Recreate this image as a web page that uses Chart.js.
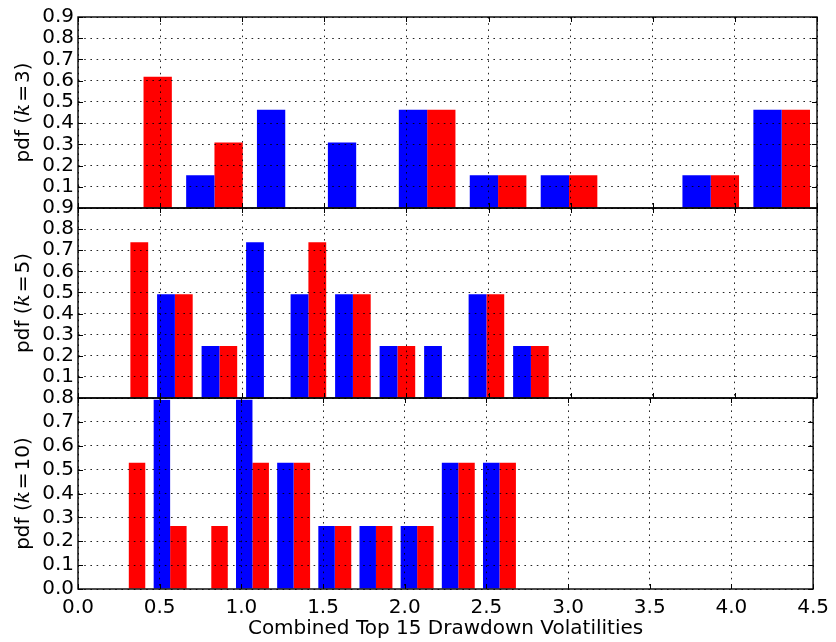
<!DOCTYPE html>
<html lang="en">
  <head>
    <meta charset="UTF-8" />
    <title>Drawdown volatility pdf</title>
    <style>
      body { margin: 0; background: #fff; }
      .fig { position: relative; width: 836px; height: 642px; background: #fff; }
      .panel { position: absolute; left: 0; width: 836px; }
    </style>
  </head>
  <body>
    <div class="fig">
      <div class="panel" style="top: 0px; height: 224px"><canvas id="chart-k3"></canvas></div>
      <div class="panel" style="top: 190px; height: 224px"><canvas id="chart-k5"></canvas></div>
      <div class="panel" style="top: 380px; height: 262px"><canvas id="chart-k10"></canvas></div>
    </div>
    <script src="https://cdn.jsdelivr.net/npm/chart.js"></script>
    <script>
      // histogram bin centres and pdf heights, one set per k
      const binsK3 = [0.399, 0.831, 1.262, 1.694, 2.126, 2.558, 2.990, 3.421, 3.853, 4.285];
      const blueK3 = [0, 0.154, 0.463, 0.309, 0.463, 0.154, 0.154, 0, 0.154, 0.463];
      const redK3 = [0.618, 0.309, 0, 0, 0.463, 0.154, 0.154, 0, 0.154, 0.463];

      const binsK5 = [0.319, 0.590, 0.861, 1.132, 1.403, 1.674, 1.945, 2.216, 2.487, 2.758];
      const blueK5 = [0, 0.492, 0.246, 0.738, 0.492, 0.492, 0.246, 0.246, 0.492, 0.246];
      const redK5 = [0.738, 0.492, 0.246, 0, 0.738, 0.492, 0.246, 0, 0.492, 0.246];

      const binsK10 = [0.311, 0.564, 0.816, 1.068, 1.320, 1.572, 1.824, 2.076, 2.328, 2.580];
      const blueK10 = [0, 0.793, 0, 0.793, 0.529, 0.264, 0.264, 0.264, 0.529, 0.529];
      const redK10 = [0.529, 0.264, 0.264, 0.529, 0.529, 0.264, 0.264, 0.264, 0.529, 0.529];

      const kValues = [3, 5, 10];
      const yMaxes = [0.9, 0.9, 0.8];
      const xMin = 0, xMax = 4.5, xStep = 0.5, yStep = 0.1;
      const xTitle = "Combined Top 15 Drawdown Volatilities";

      const FONT = "'DejaVu Sans', sans-serif";
      const SIZE = 20;

      // box around the axes, inward ticks on every side, and the y label with italic k
      const framePlugin = {
        id: "frame",
        afterDraw(chart) {
          const { ctx, chartArea: a, scales } = chart;
          const x = scales.x, y = scales.y;
          ctx.save();
          ctx.strokeStyle = "#000";
          ctx.lineWidth = 1;
          ctx.beginPath();
          x.ticks.forEach((t) => {
            const px = Math.round(x.getPixelForValue(t.value)) + 0.5;
            ctx.moveTo(px, a.top); ctx.lineTo(px, a.top + 5);
            ctx.moveTo(px, a.bottom); ctx.lineTo(px, a.bottom - 5);
          });
          y.ticks.forEach((t) => {
            const py = Math.round(y.getPixelForValue(t.value)) + 0.5;
            ctx.moveTo(a.left, py); ctx.lineTo(a.left + 5, py);
            ctx.moveTo(a.right, py); ctx.lineTo(a.right - 5, py);
          });
          ctx.stroke();
          ctx.lineWidth = 1.4;
          ctx.strokeRect(a.left, a.top, a.right - a.left, a.bottom - a.top);

          const k = chart.options.plugins.frame.k;
          const plain = SIZE + "px " + FONT;
          const parts = [
            ["pdf (", plain, 0],
            ["k", "italic " + SIZE + "px 'DejaVu Serif', serif", 0],
            ["=", plain, 2],
            [String(k), plain, 0],
            [")", plain, 0],
          ];
          let total = 0;
          parts.forEach((p) => { ctx.font = p[1]; total += ctx.measureText(p[0]).width + 2 * p[2]; });
          ctx.translate(23.5, (a.top + a.bottom) / 2);
          ctx.rotate(-Math.PI / 2);
          ctx.fillStyle = "#000";
          ctx.textBaseline = "middle";
          ctx.textAlign = "left";
          let pos = -total / 2;
          parts.forEach((p) => {
            ctx.font = p[1];
            pos += p[2];
            ctx.fillText(p[0], pos, 0);
            pos += ctx.measureText(p[0]).width + p[2];
          });
          ctx.restore();
        },
      };

      function makePanel(id, bins, blue, red, k, yMax, bottom) {
        new Chart(document.getElementById(id), {
          type: "bar",
          data: {
            datasets: [
              {
                data: bins.map((c, i) => ({ x: c, y: blue[i] })),
                backgroundColor: "#0000ff",
                borderWidth: 0,
              },
              {
                data: bins.map((c, i) => ({ x: c, y: red[i] })),
                backgroundColor: "#ff0000",
                borderWidth: 0,
              },
            ],
          },
          options: {
            responsive: true,
            maintainAspectRatio: false,
            animation: false,
            events: [],
            categoryPercentage: 0.8,
            barPercentage: 1.0,
            layout: { padding: { top: id === "chart-k3" ? 17 : 18, right: 19, left: 0, bottom: 0 } },
            plugins: {
              legend: { display: false },
              tooltip: { enabled: false },
              frame: { k: k },
            },
            scales: {
              x: {
                type: "linear",
                min: xMin,
                max: xMax,
                offset: false,
                afterFit: (s) => { s.height = bottom ? 53 : 16; },
                grid: {
                  offset: false,
                  drawTicks: false,
                  color: "rgba(0,0,0,0.85)",
                  lineWidth: 1,
                  borderDash: [1.6, 4.6],
                  z: 1,
                },
                border: { display: false, dash: [1.6, 4.6] },
                ticks: {
                  display: bottom,
                  stepSize: xStep,
                  padding: 7,
                  color: "#000",
                  font: { family: FONT, size: SIZE },
                  maxRotation: 0,
                  autoSkip: false,
                  callback: (v) => v.toFixed(1),
                },
                title: {
                  display: bottom,
                  text: xTitle,
                  color: "#000",
                  font: { family: FONT, size: SIZE },
                  padding: { top: 0, bottom: 1 },
                },
              },
              y: {
                min: 0,
                max: yMax,
                afterFit: (s) => { s.width = 78; },
                grid: {
                  drawTicks: false,
                  color: "rgba(0,0,0,0.85)",
                  lineWidth: 1,
                  borderDash: [1.6, 4.6],
                  z: 1,
                },
                border: { display: false, dash: [1.6, 4.6] },
                ticks: {
                  stepSize: yStep,
                  padding: 4,
                  color: "#000",
                  font: { family: FONT, size: SIZE },
                  autoSkip: false,
                  callback: (v) => (v === 0 && !bottom ? "" : v.toFixed(1)),
                },
              },
            },
          },
          plugins: [framePlugin],
        });
      }

      makePanel("chart-k3", binsK3, blueK3, redK3, kValues[0], yMaxes[0], false);
      makePanel("chart-k5", binsK5, blueK5, redK5, kValues[1], yMaxes[1], false);
      makePanel("chart-k10", binsK10, blueK10, redK10, kValues[2], yMaxes[2], true);
    </script>
  </body>
</html>
